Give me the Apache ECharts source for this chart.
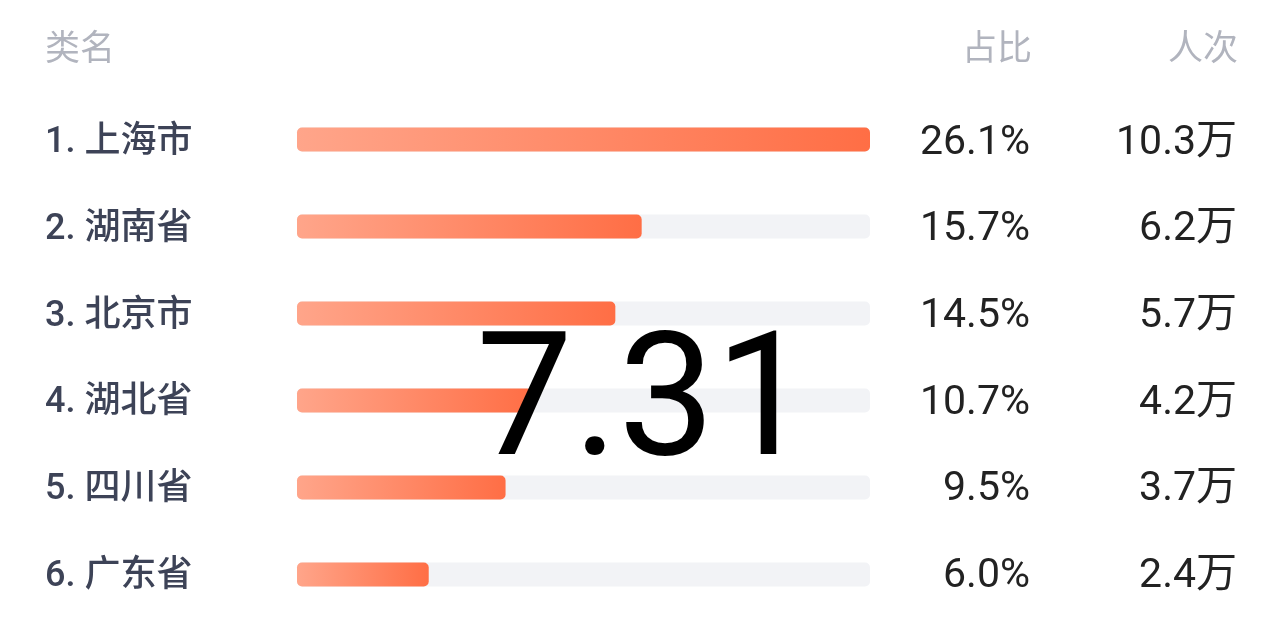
<!DOCTYPE html>
<html>
<head>
<meta charset="utf-8">
<script src="https://cdn.jsdelivr.net/npm/echarts@6/dist/echarts.min.js"></script>
<style>
html,body{margin:0;padding:0;background:#fff;}
#c{width:1284px;height:620px;}
</style>
</head>
<body>
<div id="c"></div>
<script>
const categories = ['上海市', '湖南省', '北京市', '湖北省', '四川省', '广东省'];
const shares = [26.1, 15.7, 14.5, 10.7, 9.5, 6.0];
const visits = [10.3, 6.2, 5.7, 4.2, 3.7, 2.4];
const headers = ['类名', '占比', '人次'];
const overlayText = '7.31';

const FONT = 'Roboto, "Noto Sans CJK SC", sans-serif';
const chart = echarts.init(document.getElementById('c'));
const shareLabels = shares.map(v => v.toFixed(1) + '%');
const visitLabels = visits.map(v => v.toFixed(1) + '万');

chart.setOption({
  animation: false,
  grid: [
    { left: 297, right: 414, top: 96, bottom: 2 },
    { left: 297, right: 414, top: 100, bottom: -2 }
  ],
  xAxis: [
    { type: 'value', min: 0, max: Math.max(...shares), show: false, gridIndex: 0 },
    { type: 'value', min: 0, max: 1, show: false, gridIndex: 1 }
  ],
  yAxis: [
    {
      type: 'category', data: categories, inverse: true, gridIndex: 0,
      axisLine: { show: false }, axisTick: { show: false }, axisLabel: { show: false }
    },
    {
      type: 'category', data: categories, inverse: true, gridIndex: 1,
      axisLine: { show: false }, axisTick: { show: false },
      axisLabel: {
        margin: 252, align: 'left', fontSize: 36, fontWeight: 500, color: '#3D4357', fontFamily: FONT,
        formatter: (v, i) => (i + 1) + '. ' + v
      }
    },
    {
      type: 'category', data: shareLabels, inverse: true, position: 'right', gridIndex: 1,
      axisLine: { show: false }, axisTick: { show: false },
      axisLabel: { margin: 160, align: 'right', fontSize: 41, color: '#222', fontFamily: FONT }
    },
    {
      type: 'category', data: visitLabels, inverse: true, position: 'right', gridIndex: 1,
      axisLine: { show: false }, axisTick: { show: false },
      axisLabel: { margin: 367, align: 'right', fontSize: 41, color: '#222', fontFamily: FONT }
    }
  ],
  series: [{
    type: 'bar',
    xAxisIndex: 0, yAxisIndex: 0,
    data: shares,
    barWidth: 24,
    showBackground: true,
    backgroundStyle: { color: '#F2F3F6', borderRadius: 5 },
    itemStyle: {
      borderRadius: 5,
      color: new echarts.graphic.LinearGradient(0, 0, 1, 0, [
        { offset: 0, color: '#FFA58A' },
        { offset: 1, color: '#FF6E45' }
      ])
    }
  }],
  graphic: [
    { type: 'text', left: 45, top: 29, style: { text: headers[0], fill: '#B1B4BE', font: '35px "Noto Sans CJK SC"' } },
    { type: 'text', right: 252, top: 29, style: { text: headers[1], fill: '#B1B4BE', font: '35px "Noto Sans CJK SC"' } },
    { type: 'text', right: 46, top: 29, style: { text: headers[2], fill: '#B1B4BE', font: '35px "Noto Sans CJK SC"' } },
    { type: 'text', x: 644, y: 411, z: 100, style: { text: overlayText, font: '172px Roboto', fill: '#000', align: 'center', verticalAlign: 'middle' } }
  ]
});
</script>
</body>
</html>
